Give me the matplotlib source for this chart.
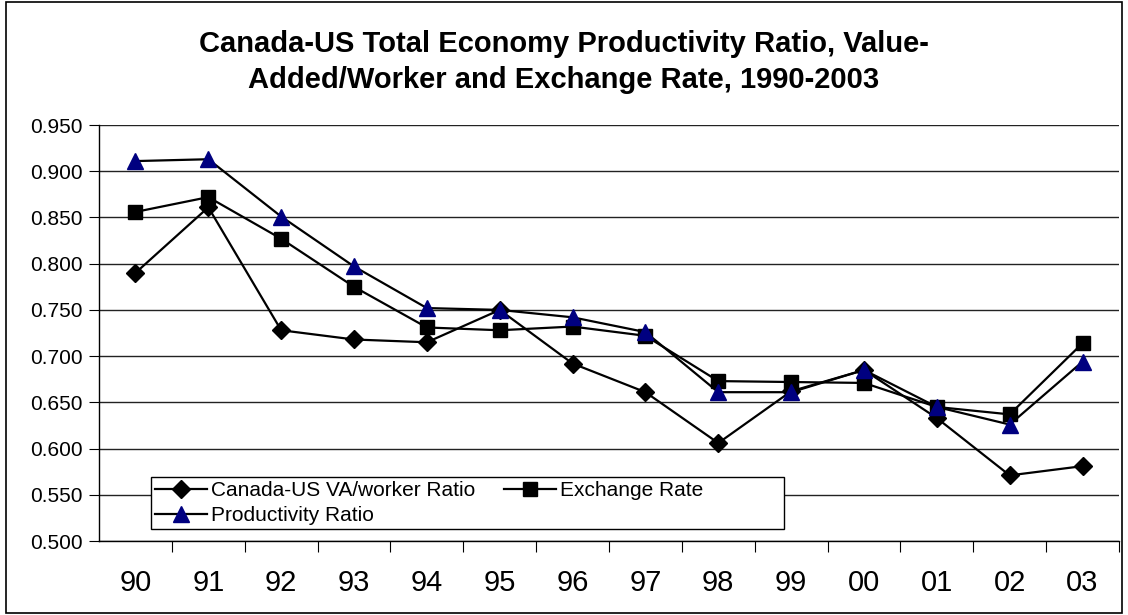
import matplotlib
matplotlib.use("Agg")
import matplotlib.pyplot as plt
from matplotlib.patches import Rectangle

plt.rcParams['font.family'] = ['Liberation Sans', 'DejaVu Sans']

years = ['90', '91', '92', '93', '94', '95', '96', '97', '98', '99', '00', '01', '02', '03']
va_worker = [0.790, 0.861, 0.728, 0.718, 0.715, 0.750, 0.692, 0.661, 0.606, 0.662, 0.685, 0.633, 0.571, 0.581]
exch_rate = [0.856, 0.872, 0.827, 0.775, 0.731, 0.728, 0.732, 0.722, 0.673, 0.672, 0.671, 0.645, 0.637, 0.714]
prod_ratio = [0.911, 0.913, 0.851, 0.797, 0.752, 0.750, 0.742, 0.726, 0.661, 0.661, 0.685, 0.645, 0.626, 0.694]
yticks = [0.50, 0.55, 0.60, 0.65, 0.70, 0.75, 0.80, 0.85, 0.90, 0.95]

fig = plt.figure(figsize=(11.28, 6.15), dpi=100)
ax = fig.add_axes([0.0878, 0.1203, 0.9042, 0.6764])

x = list(range(len(years)))
l1, = ax.plot(x, va_worker, color='black', lw=1.6, marker='D', ms=9,
              mfc='black', mec='black', label='Canada-US VA/worker Ratio', zorder=3)
l2, = ax.plot(x, exch_rate, color='black', lw=1.6, marker='s', ms=10,
              mfc='black', mec='black', label='Exchange Rate', zorder=4)
l3, = ax.plot(x, prod_ratio, color='black', lw=1.6, marker='^', ms=11,
              mfc='#000080', mec='#000080', label='Productivity Ratio', zorder=5)

ax.set_xlim(-0.5, len(years) - 0.5)
ax.set_ylim(0.5, 0.95)
ax.set_yticks(yticks)
ax.set_yticklabels(['%.3f' % v for v in yticks], fontsize=15)
ax.yaxis.grid(True, color='#222222', lw=1)
ax.set_axisbelow(True)

# category boundaries as ticks, labels at category centres
ax.set_xticks([i + 0.5 for i in range(len(years))])
ax.set_xticklabels([])
ax.set_xticks(x, minor=True)
ax.set_xticklabels(years, minor=True, fontsize=21)
ax.tick_params(axis='x', which='major', length=8, direction='out', color='black')
ax.tick_params(axis='x', which='minor', length=0, pad=20)
ax.tick_params(axis='y', length=7, direction='out', color='black', pad=5)

for s in ['top', 'right']:
    ax.spines[s].set_visible(False)
for s in ['left', 'bottom']:
    ax.spines[s].set_color('black')
    ax.spines[s].set_linewidth(1)

# legend box drawn by hand, Excel style (wider than its contents)
ax.add_patch(Rectangle((0.051, 0.0288), 0.621, 0.125, transform=ax.transAxes,
                       facecolor='white', edgecolor='black', lw=1, zorder=6))
leg = ax.legend(handles=[l1, l3, l2], ncol=2, loc='upper left',
                bbox_to_anchor=(0.051, 0.1538), borderaxespad=0,
                fontsize=15, frameon=False, handlelength=2.5, handletextpad=0.2,
                labelspacing=0.28, borderpad=0.2, columnspacing=1.35)
leg.set_zorder(7)

fig.text(0.5, 0.899, 'Canada-US Total Economy Productivity Ratio, Value-\nAdded/Worker and Exchange Rate, 1990-2003',
         ha='center', va='center', fontsize=21, fontweight='bold', linespacing=1.35)

fig.patches.append(Rectangle((0.005, 0.004), 0.99, 0.992, transform=fig.transFigure,
                             fill=False, edgecolor='black', lw=1.2))

fig.savefig('out.png', dpi=100)
